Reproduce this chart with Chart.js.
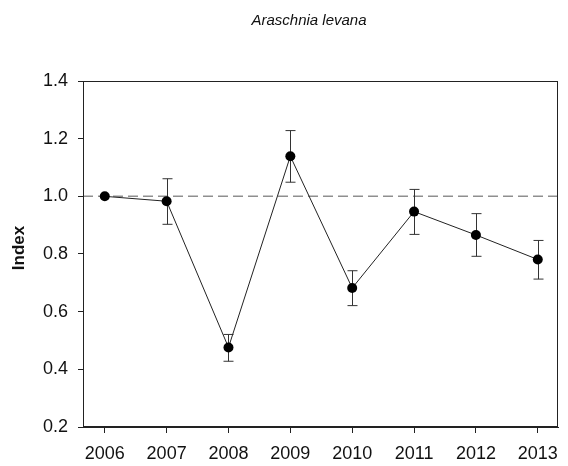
<!DOCTYPE html>
<html>
<head>
<meta charset="utf-8">
<script src="https://cdn.jsdelivr.net/npm/chart.js@4/dist/chart.umd.min.js"></script>
<style>
html,body{margin:0;padding:0;background:#fff;}
#wrap{width:568px;height:466px;}
</style>
</head>
<body>
<div id="wrap"><canvas id="c" width="568" height="466"></canvas></div>
<script>
const titleText = 'Araschnia levana';
const yTitle = 'Index';
const years = [2006, 2007, 2008, 2009, 2010, 2011, 2012, 2013];
const indexValues = [1.000, 0.983, 0.476, 1.139, 0.682, 0.947, 0.866, 0.781];
const errLow  = [1.000, 0.903, 0.428, 1.049, 0.621, 0.868, 0.792, 0.713];
const errHigh = [1.000, 1.061, 0.521, 1.228, 0.742, 1.024, 0.940, 0.847];
const yTicks = [0.2, 0.4, 0.6, 0.8, 1.0, 1.2, 1.4];
const refValue = 1.0;

const FONT = "'Liberation Sans', Arial, sans-serif";
const AXIS = '#222';

const points = years.map((y, i) => ({x: y, y: indexValues[i]}));

const decorPlugin = {
  id: 'decor',
  beforeDatasetsDraw(chart) {
    const {ctx, chartArea: a, scales: {x, y}} = chart;
    ctx.save();
    const ry = y.getPixelForValue(refValue);
    ctx.strokeStyle = '#8f8f8f';
    ctx.lineWidth = 1.5;
    ctx.setLineDash([10, 5]);
    ctx.beginPath();
    ctx.moveTo(a.left, ry);
    ctx.lineTo(a.right, ry);
    ctx.stroke();
    ctx.setLineDash([]);
    ctx.strokeStyle = '#333';
    ctx.lineWidth = 1;
    years.forEach((yr, i) => {
      if (errLow[i] === errHigh[i]) return;
      const px = Math.round(x.getPixelForValue(yr)) + 0.5;
      const t = y.getPixelForValue(errHigh[i]);
      const b = y.getPixelForValue(errLow[i]);
      ctx.beginPath();
      ctx.moveTo(px, t); ctx.lineTo(px, b);
      ctx.moveTo(px - 5, t); ctx.lineTo(px + 5, t);
      ctx.moveTo(px - 5, b); ctx.lineTo(px + 5, b);
      ctx.stroke();
    });
    ctx.restore();
  },
  afterDraw(chart) {
    const {ctx, chartArea: a} = chart;
    ctx.save();
    ctx.strokeStyle = AXIS;
    ctx.lineWidth = 1;
    ctx.strokeRect(Math.round(a.left) + 0.5, Math.round(a.top) + 0.5,
                   Math.round(a.right - a.left) - 1, Math.round(a.bottom - a.top) - 1);
    ctx.fillStyle = '#111';
    ctx.font = "italic 15px " + FONT;
    ctx.textAlign = 'center';
    ctx.textBaseline = 'middle';
    ctx.fillText(titleText, 309, 21);
    // y axis title
    ctx.font = "bold 17px " + FONT;
    ctx.translate(19, 248);
    ctx.rotate(-Math.PI / 2);
    ctx.fillText(yTitle, 0, 0);
    ctx.restore();
  }
};

new Chart(document.getElementById('c'), {
  type: 'line',
  data: {
    datasets: [{
      data: points,
      borderColor: '#222',
      borderWidth: 1,
      backgroundColor: '#000',
      pointBackgroundColor: '#000',
      pointBorderColor: '#000',
      pointRadius: 5,
      pointBorderWidth: 0,
      tension: 0,
      fill: false
    }]
  },
  options: {
    responsive: false,
    animation: false,
    events: [],
    layout: {padding: {top: 81, right: 5, left: 0, bottom: 0}},
    plugins: {legend: {display: false}, tooltip: {enabled: false}, title: {display: false}},
    scales: {
      x: {
        type: 'linear',
        min: 2005.648,
        max: 2013.328,
        afterBuildTicks: s => { s.ticks = years.map(v => ({value: v})); },
        afterFit: s => { s.height = 39; },
        ticks: {
          color: '#111',
          font: {family: FONT, size: 18},
          padding: 10,
          maxRotation: 0,
          autoSkip: false,
          callback: v => String(v)
        },
        grid: {drawOnChartArea: false, drawTicks: true, tickLength: 6, color: AXIS},
        border: {display: true, color: AXIS}
      },
      y: {
        type: 'linear',
        min: 0.2,
        max: 1.4,
        afterBuildTicks: s => { s.ticks = yTicks.map(v => ({value: v})); },
        afterFit: s => { s.width = 83; },
        ticks: {
          color: '#111',
          font: {family: FONT, size: 18},
          padding: 10,
          callback: v => Number(v).toFixed(1)
        },
        grid: {drawOnChartArea: false, drawTicks: true, tickLength: 5, color: AXIS},
        border: {display: true, color: AXIS}
      }
    }
  },
  plugins: [decorPlugin]
});
</script>
</body>
</html>
